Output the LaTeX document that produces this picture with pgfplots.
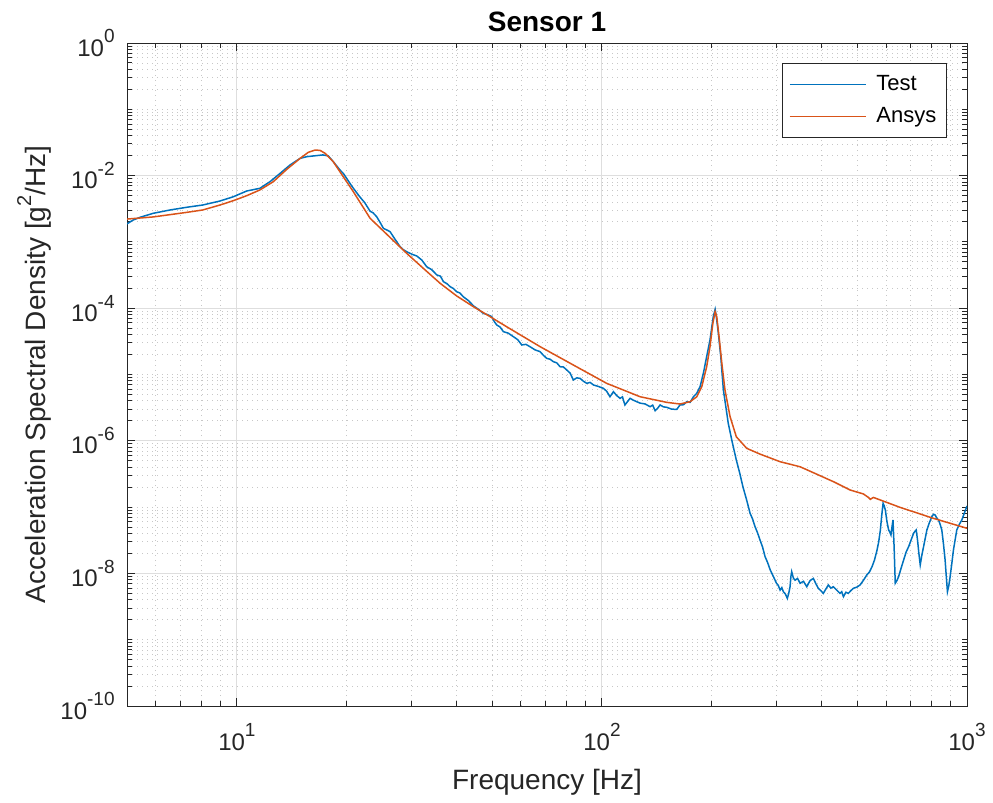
\documentclass[border=0pt]{standalone}
\usepackage{fontspec}
\setmainfont{Liberation Sans}
\usepackage{pgfplots}
\pgfplotsset{compat=1.18}

\definecolor{mblue}{RGB}{0,114,189}
\definecolor{morange}{RGB}{217,83,25}
\definecolor{axgray}{RGB}{38,38,38}

% power-of-ten tick label with a raised exponent
\newcommand{\pw}[1]{10\raisebox{0.55em}{\fontsize{9.5}{10}\selectfont#1}}

\begin{document}
\begin{tikzpicture}
\useasboundingbox (0,0) rectangle (496.5pt,401.5pt);
\begin{axis}[
  at={(63.5pt,48.5pt)}, anchor=south west,
  scale only axis, width=420pt, height=331.5pt,
  xmode=log, ymode=log,
  xmin=5, xmax=1000, ymin=1e-10, ymax=1,
  xtick={10,100,1000},
  xticklabels={\pw{1},\pw{2},\pw{3}},
  ytick={1e-10,1e-8,1e-6,1e-4,1e-2,1},
  yticklabels={\pw{-10},\pw{-8},\pw{-6},\pw{-4},\pw{-2},\pw{0}},
  minor xtick={5,6,7,8,9,20,30,40,50,60,70,80,90,200,300,400,500,600,700,800,900},
  minor ytick={2e-10,3e-10,4e-10,5e-10,6e-10,7e-10,8e-10,9e-10,1e-9,
               2e-9,3e-9,4e-9,5e-9,6e-9,7e-9,8e-9,9e-9,
               2e-8,3e-8,4e-8,5e-8,6e-8,7e-8,8e-8,9e-8,1e-7,
               2e-7,3e-7,4e-7,5e-7,6e-7,7e-7,8e-7,9e-7,
               2e-6,3e-6,4e-6,5e-6,6e-6,7e-6,8e-6,9e-6,1e-5,
               2e-5,3e-5,4e-5,5e-5,6e-5,7e-5,8e-5,9e-5,
               2e-4,3e-4,4e-4,5e-4,6e-4,7e-4,8e-4,9e-4,1e-3,
               2e-3,3e-3,4e-3,5e-3,6e-3,7e-3,8e-3,9e-3,
               2e-2,3e-2,4e-2,5e-2,6e-2,7e-2,8e-2,9e-2,1e-1,
               2e-1,3e-1,4e-1,5e-1,6e-1,7e-1,8e-1,9e-1},
  grid=both,
  major grid style={solid, line width=0.5pt, color=black!13},
  minor grid style={line width=0.45pt, color=black!22, dash pattern=on 0.5pt off 2pt},
  axis line style={axgray, line width=0.5pt},
  every tick/.style={axgray, line width=0.5pt},
  major tick length=4pt, minor tick length=2.5pt,
  tick align=inside,
  ticklabel style={font=\fontsize{12}{14}\selectfont, text=axgray},
  xticklabel style={anchor=base, yshift=-22pt},
  yticklabel style={anchor=east, inner sep=0pt, xshift=-6pt},
  title={Sensor 1},
  every axis title shift=0pt,
  title style={at={(0.5,1.0166)}, anchor=base, font=\fontsize{14}{16}\selectfont\bfseries, text=black},
  xlabel={Frequency [Hz]},
  ylabel={Acceleration Spectral Density [g\raisebox{0.5em}{\fontsize{10}{11}\selectfont 2}/Hz]},
  xlabel style={at={(0.5,-0.1252)}, anchor=base, font=\fontsize{14}{16}\selectfont, text=axgray},
  ylabel style={at={(-0.0976,0.5)}, anchor=base, font=\fontsize{14}{16}\selectfont, text=axgray},
  legend style={at={(0.976,0.970)}, anchor=north east, draw=axgray, line width=0.5pt,
    fill=white, font=\fontsize{11}{13}\selectfont, text=black,
    inner xsep=3pt, inner ysep=4pt, row sep=3pt,
    /tikz/every odd column/.append style={column sep=3pt}},
  legend cell align=left,
  legend image code/.code={\draw[#1] (0pt,0pt) -- (38pt,0pt);},
]

% measured response
\addplot[mblue, line width=0.75pt] coordinates {
(5.0,1.87e-3) (5.2,2.14e-3) (5.43,2.35e-3) (5.9,2.7e-3) (6.56,3.03e-3)
(7.29,3.33e-3) (8.06,3.6e-3) (8.99,4.14e-3) (9.78,4.8e-3) (10.64,5.86e-3)
(11.56,6.43e-3) (12.32,8.09e-3) (13.13,1.08e-2) (13.99,1.45e-2) (14.9,1.82e-2)
(15.54,1.93e-2) (17.2,2.05e-2) (17.8,1.98e-2) (18.37,1.62e-2) (19.17,1.21e-2)
(19.57,1.08e-2) (20.4,7.65e-3) (20.85,6.43e-3) (21.7,4.8e-3) (22.4,3.9e-3)
(23.17,2.9e-3) (23.6,2.75e-3) (24.15,2.40e-3) (24.7,1.95e-3) (25.2,1.60e-3)
(25.7,1.52e-3) (26.27,1.43e-3) (27.1,1.1e-3) (27.99,8.47e-4) (28.6,7.6e-4)
(29.2,7.1e-4) (30.2,6.5e-4) (31.1,6.13e-4) (32.1,5.33e-4) (33.1,4.23e-4)
(34.2,3.8e-4) (35.3,3.17e-4) (36.1,3.05e-4) (36.8,2.51e-4) (37.6,2.35e-4)
(38.4,2.11e-4) (39.2,1.98e-4) (40.0,1.77e-4) (40.8,1.7e-4) (41.7,1.49e-4)
(43.1,1.3e-4) (44.5,1.08e-4) (45.9,9.6e-5) (47.3,8.37e-5) (48.6,8.0e-5)
(49.9,7.45e-5) (50.7,6.3e-5) (51.5,5.58e-5) (52.6,5.2e-5) (53.7,4.43e-5)
(55.4,4.2e-5) (57.2,3.72e-5) (58.8,3.35e-5) (60.3,2.79e-5) (61.9,2.85e-5)
(63.5,2.63e-5) (65.6,2.35e-5) (67.7,2.21e-5) (69.1,1.95e-5) (70.6,1.75e-5)
(72.1,1.7e-5) (73.6,1.56e-5) (75.2,1.5e-5) (76.8,1.31e-5) (78.4,1.3e-5)
(80.1,1.17e-5) (81.8,1.05e-5) (83.5,8.26e-6) (85.3,8.9e-6) (87.1,8.75e-6)
(89.0,7.9e-6) (90.9,7.36e-6) (92.8,7.6e-6) (94.8,6.95e-6) (97.8,6.6e-6)
(100.9,6.19e-6) (103.0,5.6e-6) (105.2,4.62e-6) (107.5,5.5e-6) (109.8,4.8e-6)
(112.1,4.37e-6) (113.8,4.6e-6) (115.6,3.47e-6) (117.5,3.9e-6) (119.4,4.37e-6)
(121.9,4.1e-6) (124.5,3.89e-6) (127.2,3.7e-6) (131.2,3.6e-6) (135.5,3.27e-6)
(137.7,3.45e-6) (139.9,2.84e-6) (142.1,3.1e-6) (144.3,3.47e-6) (147.4,3.25e-6)
(150.5,3.2e-6) (155.3,3.0e-6) (160.3,2.98e-6) (163.6,3.47e-6) (167.2,3.5e-6)
(170.8,3.89e-6) (174.4,3.8e-6) (178.1,4.62e-6) (181.9,5.2e-6) (185.7,6.55e-6)
(189.6,1.04e-5) (193.6,1.86e-5) (197.7,3.31e-5) (201.8,7.45e-5) (204.2,9.6e-5)
(206.3,6.64e-5) (208.4,4.18e-5) (211.6,1.86e-5) (215.1,5.84e-6) (218.4,3.3e-6)
(221.8,1.84e-6) (227.5,9.5e-7) (233.4,5.13e-7) (238.3,3.3e-7) (243.3,2.03e-7)
(248.9,1.3e-7) (254.6,8.05e-8) (258.6,6.6e-8) (262.7,5.06e-8) (266.8,4.1e-8)
(271,3.19e-8) (275.4,2.5e-8) (279.8,1.79e-8) (284.4,1.45e-8) (289,1.13e-8)
(294.8,9.0e-9) (300.7,7.1e-9) (304.1,6.6e-9) (307.6,5.6e-9) (311,6.1e-9)
(314,5.3e-9) (318,4.9e-9) (322,4.2e-9) (324.8,5.0e-9) (327.6,6.3e-9)
(329.3,9.0e-9) (331,1.06e-8) (334.5,8.5e-9) (338,7.9e-9) (343.5,8.4e-9)
(349,7.1e-9) (356.5,7.6e-9) (364,6.3e-9) (371.7,7.8e-9) (379.5,8.4e-9)
(385.5,7.0e-9) (391.5,5.96e-9) (397.7,5.5e-9) (404,5.0e-9) (410.5,5.8e-9)
(417,6.7e-9) (423.7,6.0e-9) (430.5,6.3e-9) (439.7,5.6e-9) (449,5.0e-9)
(453.8,5.3e-9) (458.7,4.45e-9) (465.8,5.2e-9) (473,5.0e-9) (480.7,5.5e-9)
(488.5,5.96e-9) (499,6.2e-9) (509.5,6.7e-9) (520.5,7.9e-9) (531.5,9.46e-9)
(540.4,1.05e-8) (549.3,1.26e-8) (558.1,1.6e-8) (567,2.25e-8) (573,3.0e-8)
(579,4.52e-8) (584,7.5e-8) (589,1.14e-7) (593,1.05e-7) (597.5,9.0e-8)
(603.7,6.0e-8) (610,4.52e-8) (614.5,4.2e-8) (619,3.8e-8) (623,5.0e-8)
(627,6.4e-8) (631.5,2.5e-8) (636,7.1e-9) (642.7,7.8e-9) (649.5,8.9e-9)
(660,1.2e-8) (670.5,1.59e-8) (681.2,2.1e-8) (692,2.53e-8) (703,3.2e-8)
(714,4.03e-8) (720,4.3e-8) (726,4.52e-8) (732,3.19e-8) (738.3,2.0e-8)
(744.6,1.34e-8) (752.5,1.9e-8) (760.5,2.53e-8) (768.5,3.4e-8) (776.5,4.52e-8)
(788.7,5.8e-8) (801,7.16e-8) (809.5,7.8e-8) (818,7.6e-8) (826.7,6.8e-8)
(835.5,6.4e-8) (844.2,5.5e-8) (853,4.52e-8) (862,2.8e-8) (871,1.59e-8)
(877.5,9.0e-9) (884,5.3e-9) (891.5,6.5e-9) (899,8.9e-9) (908.5,1.4e-8)
(918,2.25e-8) (927.7,3.2e-8) (937.5,4.52e-8) (952.7,5.5e-8) (968,6.4e-8)
(984,8.2e-8) (1000,1.04e-7)
};
\addlegendentry{Test}

% finite element prediction
\addplot[morange, line width=0.75pt] coordinates {
(5.0,2.21e-3) (5.9,2.38e-3) (7.29,2.79e-3) (8.06,3.03e-3) (8.99,3.6e-3)
(9.78,4.19e-3) (10.64,4.98e-3) (11.56,6.07e-3) (12.58,8.09e-3) (13.69,1.24e-2)
(14.9,1.82e-2) (15.7,2.25e-2) (16.37,2.43e-2) (16.9,2.4e-2) (17.44,2.17e-2)
(18.37,1.62e-2) (19.57,9.6e-3) (20.85,5.7e-3) (23.17,2.27e-3) (26.27,1.17e-3)
(29.2,6.7e-4) (32.4,4.0e-4) (36.05,2.37e-4) (40.0,1.53e-4) (44.5,1.05e-4)
(49.4,7.45e-5) (54.8,5.26e-5) (67.7,2.63e-5) (83.5,1.39e-5) (103,7.36e-6)
(127.2,4.62e-6) (150.5,3.8e-6) (163.6,3.59e-6) (174.4,3.89e-6) (181.9,4.62e-6)
(187.7,6.55e-6) (193.6,1.31e-5) (197.7,2.63e-5) (201.3,5.92e-5) (204.2,8.87e-5)
(206.3,7.45e-5) (209.8,3.31e-5) (213,1.48e-5) (217.3,5.84e-6) (224.4,2.31e-6)
(233.4,1.15e-6) (249.2,7.7e-7) (271,6.3e-7) (307.6,4.84e-7) (349,4.06e-7)
(430.5,2.42e-7) (478.5,1.81e-7) (520,1.58e-7) (537,1.40e-7) (543.5,1.31e-7)
(554,1.40e-7) (656,9.9e-8) (807,6.8e-8) (1000,4.79e-8)
};
\addlegendentry{Ansys}

\end{axis}
\end{tikzpicture}
\end{document}
